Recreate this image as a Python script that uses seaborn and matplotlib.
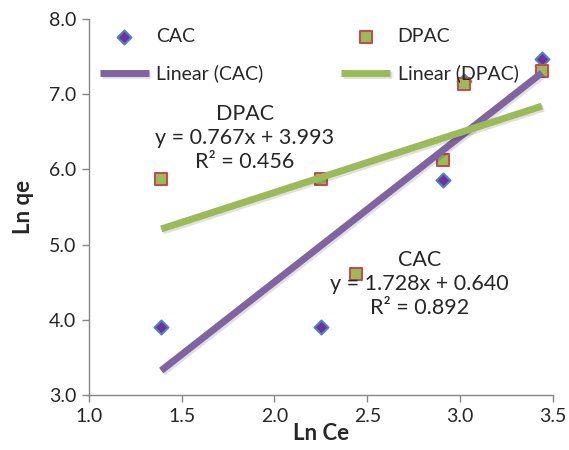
import numpy as np
import pandas as pd
import seaborn as sns
from matplotlib import pyplot as plt
import matplotlib.patheffects as pe

sns.set_style('white')
plt.rcParams['font.family'] = ['Lato', 'DejaVu Sans']

# data
cac_x = [1.39, 2.25, 2.91, 3.02, 3.44]
cac_y = [3.91, 3.91, 5.86, 7.18, 7.47]
dpac_x = [1.39, 2.25, 2.44, 2.91, 3.02, 3.44]
dpac_y = [5.87, 5.87, 4.61, 6.12, 7.13, 7.31]

cac = pd.DataFrame({'Ln Ce': cac_x, 'Ln qe': cac_y})
dpac = pd.DataFrame({'Ln Ce': dpac_x, 'Ln qe': dpac_y})

fig = plt.figure(figsize=(5.69, 4.5), dpi=100)
ax = fig.add_axes([0.156, 0.122, 0.816, 0.836])

sns.scatterplot(data=cac, x='Ln Ce', y='Ln qe', ax=ax, marker='D', s=50,
                color='#7030A0', edgecolor='#4F81BD', linewidth=1.5,
                label='CAC', zorder=2)
sns.scatterplot(data=dpac, x='Ln Ce', y='Ln qe', ax=ax, marker='s', s=75,
                color='#9BBB59', edgecolor='#C0504D', linewidth=1.5,
                label='DPAC', zorder=3)

shadow = [pe.SimpleLineShadow(offset=(1.2, -1.5), alpha=0.12), pe.Normal()]
sns.regplot(data=cac, x='Ln Ce', y='Ln qe', ax=ax, scatter=False, ci=None,
            label='Linear (CAC)',
            line_kws={'color': '#8064A2', 'lw': 5,
                      'zorder': 4, 'path_effects': shadow, 'solid_capstyle': 'butt'})
sns.regplot(data=dpac, x='Ln Ce', y='Ln qe', ax=ax, scatter=False, ci=None,
            label='Linear (DPAC)',
            line_kws={'color': '#9BBB59', 'lw': 5,
                      'zorder': 4, 'path_effects': shadow, 'solid_capstyle': 'butt'})

ax.text(1.84, 6.42, 'DPAC\ny = 0.767x + 3.993\nR² = 0.456', ha='center', va='center',
        fontsize=15.5, linespacing=1.25)
ax.text(2.78, 4.48, 'CAC\ny = 1.728x + 0.640\nR² = 0.892', ha='center', va='center',
        fontsize=15.5, linespacing=1.25)

ax.set_xlim(1.0, 3.5)
ax.set_ylim(3.0, 8.0)
ax.set_xticks(np.arange(1.0, 3.51, 0.5))
ax.set_yticks(np.arange(3.0, 8.01, 1.0))
ax.xaxis.set_major_formatter(plt.FormatStrFormatter('%.1f'))
ax.yaxis.set_major_formatter(plt.FormatStrFormatter('%.1f'))
ax.tick_params(axis='both', direction='out', length=5, width=1, color='#868686',
               labelsize=14, bottom=True, left=True, pad=4)
for s in ['top', 'right']:
    ax.spines[s].set_visible(False)
for s in ['left', 'bottom']:
    ax.spines[s].set_color('#868686')
    ax.spines[s].set_linewidth(1)

ax.set_xlabel('Ln Ce', fontsize=16, fontweight='bold', labelpad=-1)
ax.set_ylabel('Ln qe', fontsize=16, fontweight='bold', labelpad=11)

h, l = ax.get_legend_handles_labels()
want = ['CAC', 'Linear (CAC)', 'DPAC', 'Linear (DPAC)']
order = [l.index(n) for n in want if n in l]
ax.legend([h[i] for i in order], [l[i] for i in order], ncol=2, frameon=False,
          fontsize=14, loc='upper left', bbox_to_anchor=(0.024, 0.975),
          borderpad=0, borderaxespad=0, handlelength=2.5, handletextpad=0.4,
          columnspacing=4.0, labelspacing=1.0)

fig.savefig('out.png', dpi=100)
